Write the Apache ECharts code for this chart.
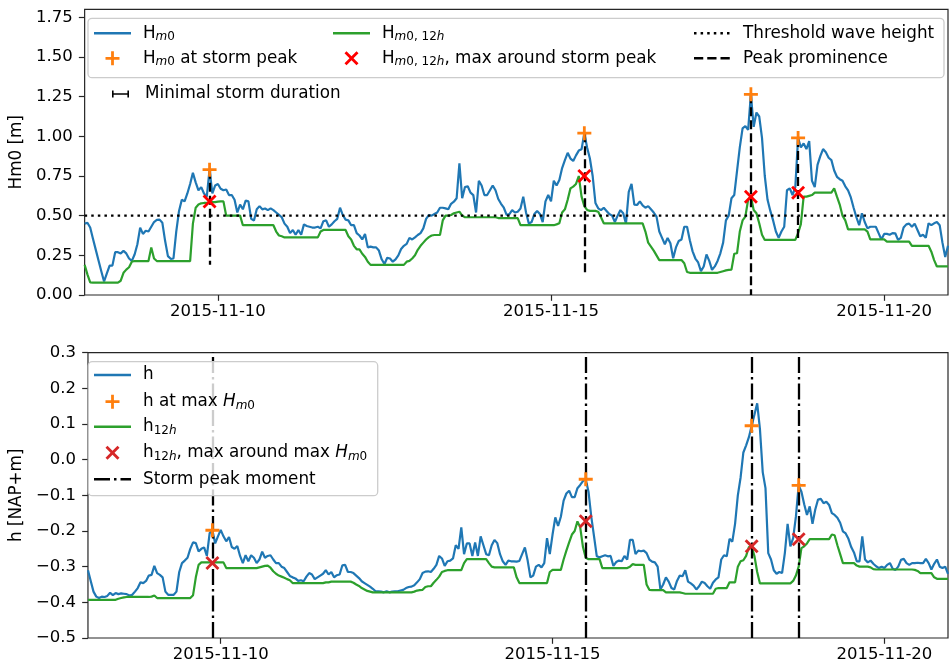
<!DOCTYPE html>
<html>
<head>
<meta charset="utf-8">
<script src="https://cdn.jsdelivr.net/npm/echarts@6/dist/echarts.min.js"></script>
<style>
html, body { margin: 0; padding: 0; background: #ffffff; }
#chart { width: 950px; height: 667px; }
</style>
</head>
<body>
<div id="chart"></div>
<script>
// Hourly series, starting 2015-11-08 00:00 UTC
const startTime = Date.UTC(2015, 10, 8, 0, 0);
const HOUR = 3600 * 1000;

// Significant wave height Hm0 [m]
const hm0 = [
  0.45,0.455,0.425,0.355,0.286,0.217,0.15,0.085,0.136,0.185,
  0.185,0.27,0.27,0.262,0.278,0.262,0.23,0.215,0.255,0.32,
  0.425,0.385,0.405,0.40,0.43,0.46,0.473,0.475,0.455,0.34,
  0.245,0.228,0.23,0.40,0.53,0.60,0.59,0.64,0.70,0.77,
  0.71,0.66,0.68,0.64,0.62,0.79,0.64,0.69,0.70,0.67,
  0.66,0.665,0.63,0.63,0.60,0.52,0.57,0.54,0.595,0.59,
  0.48,0.47,0.54,0.56,0.54,0.545,0.535,0.546,0.535,0.52,
  0.505,0.49,0.45,0.43,0.39,0.41,0.38,0.41,0.38,0.445,
  0.435,0.43,0.425,0.425,0.43,0.42,0.465,0.47,0.43,0.445,
  0.465,0.48,0.55,0.504,0.475,0.47,0.44,0.44,0.39,0.375,
  0.35,0.384,0.30,0.305,0.30,0.30,0.28,0.225,0.195,0.235,
  0.23,0.21,0.225,0.25,0.29,0.31,0.322,0.36,0.35,0.363,
  0.378,0.39,0.42,0.48,0.504,0.50,0.51,0.52,0.55,0.55,
  0.546,0.54,0.575,0.588,0.61,0.83,0.61,0.68,0.685,0.645,
  0.63,0.52,0.72,0.69,0.63,0.63,0.66,0.69,0.66,0.605,
  0.575,0.55,0.505,0.51,0.535,0.52,0.525,0.545,0.62,0.52,
  0.45,0.46,0.51,0.53,0.51,0.46,0.59,0.63,0.59,0.72,
  0.69,0.725,0.80,0.85,0.896,0.86,0.845,0.88,0.91,0.918,
  1.02,0.93,0.86,0.75,0.58,0.546,0.535,0.55,0.53,0.51,
  0.50,0.46,0.50,0.535,0.515,0.45,0.65,0.70,0.57,0.567,
  0.59,0.565,0.55,0.56,0.54,0.52,0.494,0.40,0.36,0.32,
  0.36,0.326,0.232,0.30,0.34,0.35,0.43,0.43,0.345,0.275,
  0.23,0.205,0.15,0.18,0.255,0.215,0.158,0.18,0.215,0.263,
  0.33,0.47,0.50,0.61,0.63,0.78,0.93,1.05,1.065,1.04,
  1.265,1.06,1.15,1.125,0.99,0.75,0.60,0.53,0.47,0.40,
  0.36,0.40,0.43,0.66,0.672,0.63,0.68,0.99,0.93,0.955,
  0.92,0.97,0.72,0.68,0.82,0.875,0.92,0.90,0.865,0.85,
  0.785,0.745,0.73,0.72,0.685,0.66,0.615,0.55,0.49,0.44,
  0.515,0.46,0.42,0.43,0.43,0.43,0.39,0.35,0.385,0.385,
  0.38,0.39,0.389,0.347,0.36,0.425,0.445,0.45,0.43,0.45,
  0.41,0.37,0.38,0.36,0.452,0.44,0.452,0.46,0.44,0.33,
  0.24,0.31
];

// 12-hour Hm0 [m]
const hm0_12h = [
  0.19,0.13,0.08,0.078,0.078,0.078,0.078,0.078,0.078,0.078,
  0.078,0.078,0.078,0.09,0.14,0.16,0.175,0.21,0.214,0.214,
  0.214,0.214,0.214,0.214,0.30,0.23,0.214,0.214,0.214,0.214,
  0.214,0.214,0.214,0.214,0.214,0.214,0.214,0.214,0.214,0.45,
  0.55,0.57,0.578,0.58,0.58,0.58,0.585,0.585,0.588,0.59,
  0.59,0.50,0.50,0.50,0.50,0.50,0.50,0.44,0.44,0.44,
  0.44,0.44,0.44,0.44,0.44,0.44,0.44,0.44,0.44,0.40,
  0.375,0.37,0.363,0.363,0.363,0.363,0.363,0.363,0.363,0.363,
  0.363,0.363,0.363,0.363,0.363,0.40,0.41,0.41,0.41,0.41,
  0.41,0.41,0.41,0.41,0.41,0.37,0.35,0.31,0.288,0.288,
  0.26,0.24,0.21,0.19,0.19,0.19,0.19,0.19,0.19,0.19,
  0.19,0.19,0.19,0.19,0.19,0.19,0.21,0.215,0.23,0.25,
  0.285,0.31,0.33,0.35,0.365,0.375,0.378,0.378,0.378,0.47,
  0.50,0.50,0.504,0.515,0.52,0.525,0.50,0.49,0.49,0.49,
  0.49,0.49,0.49,0.49,0.49,0.49,0.49,0.49,0.49,0.485,
  0.485,0.485,0.485,0.485,0.485,0.485,0.485,0.44,0.44,0.44,
  0.44,0.44,0.44,0.44,0.44,0.44,0.44,0.44,0.44,0.44,
  0.445,0.452,0.52,0.54,0.60,0.672,0.683,0.70,0.75,0.62,
  0.56,0.536,0.53,0.53,0.53,0.525,0.49,0.452,0.452,0.452,
  0.452,0.452,0.452,0.452,0.452,0.452,0.452,0.452,0.452,0.452,
  0.452,0.452,0.40,0.33,0.305,0.28,0.25,0.22,0.22,0.22,
  0.22,0.22,0.22,0.22,0.22,0.22,0.20,0.145,0.14,0.14,
  0.14,0.14,0.14,0.14,0.14,0.14,0.14,0.14,0.14,0.145,
  0.15,0.155,0.158,0.16,0.26,0.263,0.40,0.47,0.494,0.60,
  0.62,0.536,0.515,0.452,0.38,0.347,0.347,0.347,0.347,0.347,
  0.347,0.347,0.347,0.347,0.347,0.347,0.347,0.39,0.447,0.62,
  0.62,0.625,0.63,0.645,0.645,0.645,0.645,0.645,0.645,0.645,
  0.672,0.62,0.57,0.50,0.47,0.414,0.414,0.414,0.414,0.414,
  0.414,0.414,0.40,0.35,0.35,0.35,0.35,0.35,0.35,0.336,
  0.336,0.336,0.336,0.336,0.336,0.336,0.336,0.336,0.31,0.31,
  0.31,0.31,0.31,0.31,0.31,0.273,0.22,0.18,0.18,0.18,
  0.18,0.18
];

// Water level h [NAP+m]
const h = [
  -0.31,-0.34,-0.37,-0.384,-0.388,-0.384,-0.385,-0.382,-0.373,-0.38,
  -0.374,-0.377,-0.375,-0.376,-0.377,-0.381,-0.379,-0.37,-0.36,-0.344,
  -0.346,-0.34,-0.325,-0.323,-0.298,-0.318,-0.323,-0.33,-0.37,-0.379,
  -0.379,-0.379,-0.37,-0.315,-0.29,-0.283,-0.275,-0.25,-0.232,-0.234,
  -0.257,-0.25,-0.246,-0.27,-0.206,-0.198,-0.235,-0.215,-0.197,-0.215,
  -0.229,-0.217,-0.245,-0.25,-0.242,-0.27,-0.29,-0.268,-0.285,-0.268,
  -0.275,-0.29,-0.28,-0.258,-0.275,-0.27,-0.268,-0.28,-0.29,-0.29,
  -0.30,-0.304,-0.315,-0.326,-0.33,-0.333,-0.34,-0.338,-0.341,-0.328,
  -0.318,-0.322,-0.335,-0.33,-0.325,-0.32,-0.31,-0.322,-0.315,-0.33,
  -0.324,-0.322,-0.296,-0.295,-0.315,-0.315,-0.318,-0.325,-0.332,-0.341,
  -0.346,-0.351,-0.356,-0.362,-0.369,-0.369,-0.37,-0.372,-0.369,-0.372,
  -0.37,-0.369,-0.369,-0.367,-0.365,-0.36,-0.357,-0.356,-0.352,-0.344,
  -0.335,-0.318,-0.314,-0.313,-0.315,-0.306,-0.295,-0.27,-0.277,-0.298,
  -0.285,-0.283,-0.277,-0.24,-0.25,-0.19,-0.265,-0.235,-0.235,-0.27,
  -0.232,-0.27,-0.215,-0.24,-0.265,-0.268,-0.24,-0.225,-0.234,-0.265,
  -0.285,-0.295,-0.283,-0.285,-0.285,-0.286,-0.284,-0.265,-0.246,-0.283,
  -0.33,-0.325,-0.30,-0.295,-0.302,-0.29,-0.22,-0.265,-0.21,-0.162,
  -0.186,-0.16,-0.115,-0.095,-0.087,-0.105,-0.105,-0.08,-0.071,-0.06,
  -0.055,-0.09,-0.16,-0.215,-0.271,-0.274,-0.271,-0.268,-0.271,-0.27,
  -0.298,-0.287,-0.283,-0.285,-0.27,-0.28,-0.225,-0.225,-0.265,-0.255,
  -0.257,-0.255,-0.262,-0.28,-0.286,-0.288,-0.30,-0.364,-0.35,-0.33,
  -0.342,-0.36,-0.364,-0.34,-0.325,-0.327,-0.31,-0.342,-0.347,-0.353,
  -0.364,-0.355,-0.342,-0.346,-0.355,-0.362,-0.345,-0.336,-0.33,-0.28,
  -0.268,-0.271,-0.222,-0.23,-0.18,-0.10,-0.05,0.02,0.04,0.063,
  0.095,0.126,0.158,0.085,-0.035,-0.08,-0.262,-0.28,-0.31,-0.32,
  -0.315,-0.318,-0.262,-0.18,-0.243,-0.22,-0.16,-0.072,-0.09,-0.125,
  -0.155,-0.131,-0.18,-0.14,-0.112,-0.11,-0.122,-0.118,-0.127,-0.15,
  -0.155,-0.163,-0.177,-0.201,-0.207,-0.222,-0.245,-0.26,-0.285,-0.285,
  -0.215,-0.28,-0.288,-0.283,-0.292,-0.299,-0.304,-0.30,-0.304,-0.295,
  -0.29,-0.306,-0.309,-0.30,-0.281,-0.278,-0.29,-0.295,-0.29,-0.29,
  -0.289,-0.29,-0.29,-0.278,-0.29,-0.308,-0.292,-0.28,-0.30,-0.304,
  -0.30,-0.32
];

// 12-hour water level [NAP+m]
const h_12h = [
  -0.393,-0.393,-0.393,-0.393,-0.393,-0.393,-0.393,-0.393,-0.393,-0.393,
  -0.393,-0.39,-0.388,-0.386,-0.385,-0.385,-0.385,-0.385,-0.385,-0.385,
  -0.385,-0.385,-0.385,-0.384,-0.381,-0.388,-0.388,-0.388,-0.388,-0.388,
  -0.388,-0.388,-0.388,-0.388,-0.388,-0.388,-0.388,-0.388,-0.38,-0.33,
  -0.295,-0.288,-0.288,-0.288,-0.288,-0.288,-0.288,-0.288,-0.288,-0.288,
  -0.304,-0.304,-0.304,-0.304,-0.304,-0.304,-0.304,-0.304,-0.304,-0.304,
  -0.304,-0.304,-0.302,-0.30,-0.298,-0.297,-0.303,-0.313,-0.32,-0.325,
  -0.328,-0.331,-0.335,-0.338,-0.346,-0.346,-0.346,-0.346,-0.346,-0.346,
  -0.346,-0.346,-0.346,-0.346,-0.346,-0.346,-0.344,-0.344,-0.342,-0.342,
  -0.342,-0.342,-0.342,-0.342,-0.342,-0.342,-0.345,-0.35,-0.354,-0.36,
  -0.364,-0.368,-0.37,-0.372,-0.372,-0.372,-0.372,-0.372,-0.372,-0.372,
  -0.372,-0.372,-0.372,-0.372,-0.372,-0.372,-0.372,-0.372,-0.37,-0.367,
  -0.366,-0.365,-0.357,-0.355,-0.355,-0.345,-0.337,-0.328,-0.315,-0.312,
  -0.31,-0.31,-0.31,-0.31,-0.31,-0.31,-0.29,-0.279,-0.279,-0.279,
  -0.279,-0.279,-0.279,-0.279,-0.279,-0.29,-0.30,-0.302,-0.302,-0.302,
  -0.302,-0.302,-0.302,-0.302,-0.302,-0.33,-0.346,-0.346,-0.346,-0.346,
  -0.346,-0.346,-0.346,-0.346,-0.346,-0.346,-0.346,-0.315,-0.309,-0.309,
  -0.309,-0.309,-0.28,-0.255,-0.232,-0.21,-0.20,-0.173,-0.19,-0.245,
  -0.275,-0.279,-0.279,-0.279,-0.279,-0.279,-0.304,-0.304,-0.304,-0.304,
  -0.304,-0.304,-0.304,-0.304,-0.304,-0.304,-0.30,-0.293,-0.295,-0.295,
  -0.295,-0.295,-0.35,-0.365,-0.366,-0.366,-0.366,-0.366,-0.366,-0.372,
  -0.372,-0.372,-0.372,-0.372,-0.372,-0.374,-0.376,-0.376,-0.376,-0.376,
  -0.376,-0.376,-0.376,-0.376,-0.376,-0.376,-0.376,-0.362,-0.36,-0.36,
  -0.36,-0.36,-0.344,-0.344,-0.344,-0.30,-0.285,-0.282,-0.27,-0.245,
  -0.243,-0.27,-0.315,-0.347,-0.347,-0.347,-0.347,-0.347,-0.347,-0.347,
  -0.347,-0.347,-0.347,-0.347,-0.347,-0.34,-0.325,-0.30,-0.248,-0.243,
  -0.235,-0.223,-0.223,-0.223,-0.223,-0.223,-0.223,-0.223,-0.223,-0.21,
  -0.212,-0.24,-0.265,-0.29,-0.29,-0.29,-0.29,-0.29,-0.297,-0.30,
  -0.30,-0.30,-0.30,-0.302,-0.307,-0.308,-0.308,-0.308,-0.308,-0.308,
  -0.308,-0.308,-0.308,-0.308,-0.308,-0.308,-0.308,-0.308,-0.308,-0.309,
  -0.312,-0.318,-0.318,-0.318,-0.318,-0.318,-0.33,-0.334,-0.334,-0.334,
  -0.334,-0.334
];

// Storm peaks (hour index into the series above)
const stormPeakIdx = [45, 180, 240, 257];
const hm0_12hMaxAroundPeak = [0.59, 0.75, 0.62, 0.645];
const prominenceBase = [0.19, 0.14, 0.0, 0.347];
const h_12hMaxAroundPeak = [-0.29, -0.173, -0.243, -0.223];
const thresholdWaveHeight = 0.5;

// Axis ticks
const xTickDates = ['2015-11-10', '2015-11-15', '2015-11-20'];
const hm0Ticks = [0, 0.25, 0.5, 0.75, 1.0, 1.25, 1.5, 1.75];
const hTicks = [-0.5, -0.4, -0.3, -0.2, -0.1, 0.0, 0.1, 0.2, 0.3];

// ---------------------------------------------------------------------------
const FONT = 'DejaVu Sans';
const INK = '#000000';
const FRAME = '#262626';
const C_BLUE = '#1f77b4', C_ORANGE = '#ff7f0e', C_GREEN = '#2ca02c';
const C_RED = '#ff0000', C_TABRED = '#d62728';

const timeAt = i => startTime + i * HOUR;
const lastIdx = hm0.length - 1;
const asPairs = arr => arr.map((v, i) => [timeAt(i), v]);
const tickTimes = xTickDates.map(d => Date.parse(d + 'T00:00:00Z'));

// marker glyphs (14 x 14)
const PLUS = 'path://M5.6,0H8.4V5.6H14V8.4H8.4V14H5.6V8.4H0V5.6H5.6Z';
const CROSS = 'path://M0,2L2,0L7,5L12,0L14,2L9,7L14,12L12,14L7,9L2,14L0,12L5,7Z';

// legend glyphs, drawn in a 37 x 14 box (corner specks pin the box size)
const BOX = 'M0,0h0.01v0.01h-0.01z M36.99,13.99h0.01v0.01h-0.01z ';
const ICON_LINE = 'path://' + BOX + 'M0,5.8H37V8.2H0Z';
const ICON_PLUS = 'path://' + BOX + 'M17.1,0H19.9V5.6H25.5V8.4H19.9V14H17.1V8.4H11.5V5.6H17.1Z';
const ICON_CROSS = 'path://' + BOX + 'M11.5,2L13.5,0L18.5,5L23.5,0L25.5,2L20.5,7L25.5,12L23.5,14L18.5,9L13.5,14L11.5,12L16.5,7Z';
const ICON_DOTTED = 'path://' + BOX + 'M0,5.8h2.5v2.4h-2.5z M6.6,5.8h2.5v2.4h-2.5z M13.2,5.8h2.5v2.4h-2.5z M19.8,5.8h2.5v2.4h-2.5z M26.4,5.8h2.5v2.4h-2.5z M33,5.8h2.5v2.4h-2.5z';
const ICON_DASHED = 'path://' + BOX + 'M0,5.8h9.25v2.4h-9.25z M13.25,5.8h9.25v2.4h-9.25z M26.5,5.8h9.25v2.4h-9.25z';
const ICON_DASHDOT = 'path://' + BOX + 'M0,5.8h16v2.4h-16z M20,5.8h2.5v2.4h-2.5z M26.5,5.8h10.5v2.4h-10.5z';
const ICON_DURATION = 'path://M0,0h0.01v0.01h-0.01z M16.99,13.99h0.01v0.01h-0.01z M0,6.2h17v1.6h-17z M0,3.5h1.6v7h-1.6z M15.4,3.5h1.6v7h-1.6z';

// legend text (rich text for subscripts)
const legendText = {
  'Hm0': 'H{si|m}{sn|0}',
  'Hm0 at storm peak': 'H{si|m}{sn|0} at storm peak',
  'Hm0,12h': 'H{si|m}{sn|0, 12}{si|h}',
  'Hm0,12h max': 'H{si|m}{sn|0, 12}{si|h}, max around storm peak',
  'Threshold wave height': 'Threshold wave height',
  'Peak prominence': 'Peak prominence',
  'Minimal storm duration': 'Minimal storm duration',
  'h': 'h',
  'h at max Hm0': 'h at max {it|H}{si|m}{sn|0}',
  'h12h': 'h{sn|12}{si|h}',
  'h12h max': 'h{sn|12}{si|h}, max around max {it|H}{si|m}{sn|0}',
  'Storm peak moment': 'Storm peak moment'
};

const richStyles = {
  it: { fontFamily: FONT, fontSize: 16.8, fontStyle: 'italic', color: INK, lineHeight: 20 },
  si: { fontFamily: FONT, fontSize: 12, fontStyle: 'italic', color: INK, lineHeight: 10, verticalAlign: 'bottom' },
  sn: { fontFamily: FONT, fontSize: 12, color: INK, lineHeight: 10, verticalAlign: 'bottom' }
};

function legendEntry(name, icon, color, left, centerY, iconWidth, textGap) {
  return {
    show: true,
    selectedMode: false,
    orient: 'horizontal',
    left: left,
    top: centerY - 10,
    padding: 0,
    itemGap: 0,
    itemWidth: iconWidth || 37,
    itemHeight: 14,
    z: 60,
    data: [{ name: name, icon: icon, itemStyle: { color: color, borderWidth: 0, opacity: 1 } }],
    formatter: n => legendText[n],
    textStyle: {
      fontFamily: FONT, fontSize: 16.8, color: INK, lineHeight: 20,
      padding: [0, 0, 0, textGap === undefined ? 7 : textGap],
      rich: richStyles
    }
  };
}

const legends = [
  // upper panel, framed block
  legendEntry('Hm0', ICON_LINE, C_BLUE, 94, 33.3),
  legendEntry('Hm0 at storm peak', ICON_PLUS, C_ORANGE, 94, 58.3),
  legendEntry('Hm0,12h', ICON_LINE, C_GREEN, 333, 33.3),
  legendEntry('Hm0,12h max', ICON_CROSS, C_RED, 333, 58.3),
  legendEntry('Threshold wave height', ICON_DOTTED, INK, 694, 33.3),
  legendEntry('Peak prominence', ICON_DASHED, INK, 694, 58.3),
  // upper panel, separate entry
  legendEntry('Minimal storm duration', ICON_DURATION, INK, 112, 94, 17, 11),
  // lower panel
  legendEntry('h', ICON_LINE, C_BLUE, 94, 375),
  legendEntry('h at max Hm0', ICON_PLUS, C_ORANGE, 94, 401.7),
  legendEntry('h12h', ICON_LINE, C_GREEN, 94, 426.7),
  legendEntry('h12h max', ICON_CROSS, C_TABRED, 94, 452.7),
  legendEntry('Storm peak moment', ICON_DASHDOT, INK, 94, 479.3)
];

const fmtDate = v => new Date(v).toISOString().slice(0, 10);

function xAxisFor(gridIndex) {
  return {
    type: 'value', gridIndex: gridIndex,
    min: timeAt(0), max: timeAt(lastIdx), scale: true,
    axisLine: { show: false, onZero: false },
    splitLine: { show: false },
    axisTick: { show: true, customValues: tickTimes, length: 5.8, lineStyle: { color: FRAME, width: 1.2 } },
    axisLabel: {
      customValues: tickTimes, hideOverlap: false,
      formatter: v => fmtDate(v),
      fontFamily: FONT, fontSize: 16.5, color: INK, margin: 8
    }
  };
}

function yAxisFor(gridIndex, min, max, ticks, fmt, name) {
  return {
    type: 'value', gridIndex: gridIndex, min: min, max: max,
    axisLine: { show: false, onZero: false },
    splitLine: { show: false },
    axisTick: { show: true, customValues: ticks, length: 5.8, lineStyle: { color: FRAME, width: 1.2 } },
    axisLabel: { customValues: ticks, formatter: fmt, fontFamily: FONT, fontSize: 16.5, color: INK, margin: 12 },
    name: name, nameLocation: 'middle', nameGap: 54,
    nameTextStyle: { fontFamily: FONT, fontSize: 16.8, color: INK }
  };
}

const fmtHm0 = v => v.toFixed(2);
const fmtH = v => (v < -1e-9 ? '\u2212' + Math.abs(v).toFixed(1) : Math.abs(v).toFixed(1));

const noEmphasis = { disabled: true };

const series = [
  // ---- upper panel ----
  {
    name: 'Hm0', type: 'line', xAxisIndex: 0, yAxisIndex: 0,
    data: asPairs(hm0), showSymbol: false, symbol: 'none', color: C_BLUE,
    lineStyle: { color: C_BLUE, width: 2.2 }, z: 2, emphasis: noEmphasis, silent: true
  },
  {
    name: 'Hm0 at storm peak', type: 'scatter', xAxisIndex: 0, yAxisIndex: 0,
    data: stormPeakIdx.map(i => [timeAt(i), hm0[i]]),
    symbol: PLUS, symbolSize: 14, itemStyle: { color: C_ORANGE, opacity: 1 }, color: C_ORANGE, z: 6, emphasis: noEmphasis, silent: true
  },
  {
    name: 'Hm0,12h', type: 'line', xAxisIndex: 0, yAxisIndex: 0,
    data: asPairs(hm0_12h), showSymbol: false, symbol: 'none', color: C_GREEN,
    lineStyle: { color: C_GREEN, width: 2.2 }, z: 3, emphasis: noEmphasis, silent: true
  },
  {
    name: 'Hm0,12h max', type: 'scatter', xAxisIndex: 0, yAxisIndex: 0,
    data: stormPeakIdx.map((i, k) => [timeAt(i), hm0_12hMaxAroundPeak[k]]),
    symbol: CROSS, symbolSize: 14, itemStyle: { color: C_RED, opacity: 1 }, color: C_RED, z: 7, emphasis: noEmphasis, silent: true
  },
  {
    name: 'Threshold wave height', type: 'line', xAxisIndex: 0, yAxisIndex: 0,
    data: [[timeAt(0), thresholdWaveHeight], [timeAt(lastIdx), thresholdWaveHeight]],
    showSymbol: false, symbol: 'none', color: INK,
    lineStyle: { color: INK, width: 2.3, type: [2.5, 4.1] }, z: 4, emphasis: noEmphasis, silent: true
  },
  {
    name: 'Peak prominence', type: 'line', xAxisIndex: 0, yAxisIndex: 0,
    data: [], color: INK, z: 5, silent: true,
    markLine: {
      silent: true, symbol: ['none', 'none'], label: { show: false }, emphasis: noEmphasis, animation: false,
      lineStyle: { color: INK, width: 2.3, type: [9, 4] },
      data: stormPeakIdx.map((i, k) => [
        { coord: [timeAt(i), hm0[i]] },
        { coord: [timeAt(i), prominenceBase[k]] }
      ])
    }
  },
  {
    name: 'Minimal storm duration', type: 'line', xAxisIndex: 0, yAxisIndex: 0,
    data: [], color: INK, silent: true
  },
  // ---- lower panel ----
  {
    name: 'h', type: 'line', xAxisIndex: 1, yAxisIndex: 1,
    data: asPairs(h), showSymbol: false, symbol: 'none', color: C_BLUE,
    lineStyle: { color: C_BLUE, width: 2.2 }, z: 2, emphasis: noEmphasis, silent: true
  },
  {
    name: 'h at max Hm0', type: 'scatter', xAxisIndex: 1, yAxisIndex: 1,
    data: stormPeakIdx.map(i => [timeAt(i), h[i]]),
    symbol: PLUS, symbolSize: 14, itemStyle: { color: C_ORANGE, opacity: 1 }, color: C_ORANGE, z: 5, emphasis: noEmphasis, silent: true
  },
  {
    name: 'h12h', type: 'line', xAxisIndex: 1, yAxisIndex: 1,
    data: asPairs(h_12h), showSymbol: false, symbol: 'none', color: C_GREEN,
    lineStyle: { color: C_GREEN, width: 2.2 }, z: 3, emphasis: noEmphasis, silent: true
  },
  {
    name: 'h12h max', type: 'scatter', xAxisIndex: 1, yAxisIndex: 1,
    data: stormPeakIdx.map((i, k) => [timeAt(i), h_12hMaxAroundPeak[k]]),
    symbol: CROSS, symbolSize: 14, itemStyle: { color: C_TABRED, opacity: 1 }, color: C_TABRED, z: 6, emphasis: noEmphasis, silent: true
  },
  {
    name: 'Storm peak moment', type: 'line', xAxisIndex: 1, yAxisIndex: 1,
    data: [], color: INK, z: 8, silent: true,
    markLine: {
      silent: true, symbol: ['none', 'none'], label: { show: false }, emphasis: noEmphasis, animation: false,
      lineStyle: { color: INK, width: 2.3, type: [16, 4, 2.5, 4] },
      data: stormPeakIdx.map(i => ({ xAxis: timeAt(i) }))
    }
  }
];

const option = {
  animation: false,
  backgroundColor: '#ffffff',
  textStyle: { fontFamily: FONT },
  grid: [
    { left: 80.7, right: 2, top: 9.4, height: 285.6, show: true, borderColor: FRAME, borderWidth: 1.2, backgroundColor: 'transparent', z: 1 },
    { left: 80.7, right: 2, top: 352.6, height: 285.4, show: true, borderColor: FRAME, borderWidth: 1.2, backgroundColor: 'transparent', z: 1 }
  ],
  xAxis: [xAxisFor(0), xAxisFor(1)],
  yAxis: [
    yAxisFor(0, 0, 1.8, hm0Ticks, fmtHm0, 'Hm0 [m]'),
    yAxisFor(1, -0.5, 0.3, hTicks, fmtH, 'h [NAP+m]')
  ],
  legend: legends,
  graphic: [
    {
      type: 'rect', z: 50, silent: true,
      shape: { x: 88, y: 18.3, width: 856, height: 59.4, r: 4 },
      style: { fill: 'rgba(255,255,255,0.8)', stroke: '#cccccc', lineWidth: 1.3 }
    },
    {
      type: 'rect', z: 50, silent: true,
      shape: { x: 88.3, y: 361.7, width: 289.4, height: 134, r: 4 },
      style: { fill: 'rgba(255,255,255,0.8)', stroke: '#cccccc', lineWidth: 1.3 }
    }
  ],
  series: series
};

const chart = echarts.init(document.getElementById('chart'), null, { renderer: 'canvas' });
chart.setOption(option);
</script>
</body>
</html>
